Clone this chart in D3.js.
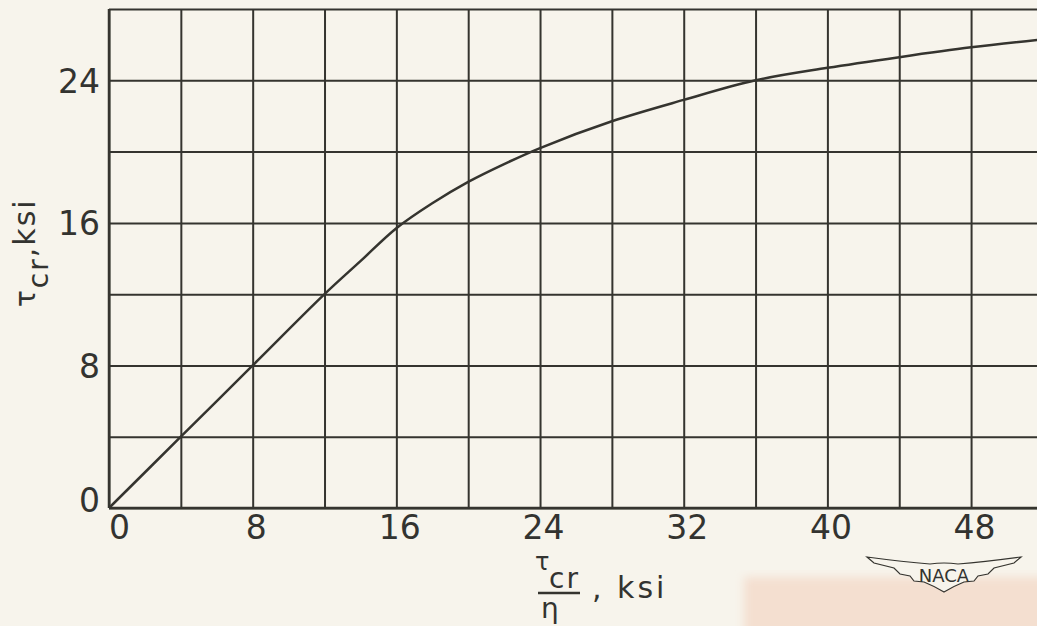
<!DOCTYPE html>
<html>
<head>
<meta charset="utf-8">
<script src="https://cdn.jsdelivr.net/npm/d3@7"></script>
<style>
  html, body { margin: 0; padding: 0; background: #f7f4ec; }
  svg { display: block; }
  .lbl { font-family: "DejaVu Sans", sans-serif; fill: #333330; }
</style>
</head>
<body>
<div id="chart"></div>
<script>
// data
var tauEta = [0, 4, 8, 12, 14, 16, 18, 20, 22, 24, 28, 32, 36, 40, 44, 48, 52];
var tauCr = [0, 4, 8, 12, 13.85, 15.7, 17.1, 18.3, 19.3, 20.2, 21.7, 22.9, 24.0, 24.7, 25.3, 25.85, 26.3];

var gridX = d3.range(0, 53, 4);
var gridY = d3.range(0, 29, 4);
var xTicks = [0, 8, 16, 24, 32, 40, 48];
var yTicks = [0, 8, 16, 24];

var svgWidth = 1037;
var svgHeight = 626;
var ink = "#35342f";

var svg = d3.select("#chart")
  .append("svg")
  .attr("width", svgWidth)
  .attr("height", svgHeight);

svg.append("rect")
  .attr("width", svgWidth)
  .attr("height", svgHeight)
  .attr("fill", "#f7f4ec");

// faint stain on the scan, lower right
var defs = svg.append("defs");
defs.append("filter").attr("id", "soft")
  .append("feGaussianBlur").attr("stdDeviation", 5);
svg.append("rect")
  .attr("x", 744).attr("y", 577)
  .attr("width", 320).attr("height", 70)
  .attr("fill", "#f4dfd0")
  .attr("filter", "url(#soft)");

var x = d3.scaleLinear().domain([0, 52]).range([109, 109 + 52 * 17.96]);
var y = d3.scaleLinear().domain([0, 28]).range([508, 508 - 28 * 17.82]);

// grid - vertical lines
var gx = svg.append("g")
  .attr("transform", `translate(0, ${y(0)})`)
  .call(d3.axisBottom(x).tickValues(gridX).tickSize(-(y(0) - y(28))).tickFormat(""));
gx.select(".domain").remove();
gx.selectAll(".tick line").attr("stroke", ink).attr("stroke-width", 2);

// grid - horizontal lines
var gy = svg.append("g")
  .attr("transform", `translate(${x(0)}, 0)`)
  .call(d3.axisLeft(y).tickValues(gridY).tickSize(-(x(52) - x(0))).tickFormat(""));
gy.select(".domain").remove();
gy.selectAll(".tick line").attr("stroke", ink).attr("stroke-width", 2);

// heavier frame on left and bottom
svg.append("line")
  .attr("x1", x(0)).attr("x2", x(0))
  .attr("y1", y(0)).attr("y2", y(28))
  .attr("stroke", ink).attr("stroke-width", 2.5);
svg.append("line")
  .attr("x1", x(0)).attr("x2", x(52))
  .attr("y1", y(0)).attr("y2", y(0))
  .attr("stroke", ink).attr("stroke-width", 2.5);

// tick labels
var xl = svg.append("g")
  .attr("transform", `translate(0, ${y(0)})`)
  .call(d3.axisBottom(x).tickValues(xTicks).tickSize(0).tickPadding(8));
xl.select(".domain").remove();
xl.selectAll(".tick text")
  .attr("class", "lbl")
  .attr("font-size", 33)
  .attr("fill", "#333330")
  .attr("dy", "0.71em")
  .attr("dx", d => d === 0 ? 10 : 3);

var yl = svg.append("g")
  .attr("transform", `translate(${x(0)}, 0)`)
  .call(d3.axisLeft(y).tickValues(yTicks).tickSize(0).tickPadding(9));
yl.select(".domain").remove();
yl.selectAll(".tick text")
  .attr("class", "lbl")
  .attr("font-size", 33)
  .attr("fill", "#333330")
  .attr("dy", d => d === 0 ? "0.1em" : "0.36em");

// curve
var pts = tauEta.map((v, i) => [v, tauCr[i]]);
var line = d3.line()
  .x(d => x(d[0]))
  .y(d => y(d[1]))
  .curve(d3.curveCatmullRom.alpha(0.5));

svg.append("path")
  .datum(pts)
  .attr("d", line)
  .attr("fill", "none")
  .attr("stroke", ink)
  .attr("stroke-width", 2.5);

// y axis title
var yt = svg.append("text")
  .attr("class", "lbl")
  .attr("transform", "translate(35, 307) rotate(-90)")
  .attr("letter-spacing", 2);
yt.append("tspan").attr("font-size", 28).text("τ");
yt.append("tspan").attr("font-size", 28).attr("dy", 13).text("cr");
yt.append("tspan").attr("font-size", 30).attr("dy", -13).text(",ksi");

// x axis title, as a fraction
var num = svg.append("text").attr("class", "lbl");
num.append("tspan")
  .attr("x", 535).attr("y", 570).attr("font-size", 24).text("τ");
num.append("tspan")
  .attr("x", 549).attr("y", 588).attr("font-size", 28)
  .attr("letter-spacing", 2).text("cr");
svg.append("line")
  .attr("x1", 538).attr("x2", 580)
  .attr("y1", 593).attr("y2", 593)
  .attr("stroke", ink).attr("stroke-width", 2.5);
svg.append("text").attr("class", "lbl")
  .attr("x", 541).attr("y", 618).attr("font-size", 28).text("η");
svg.append("text").attr("class", "lbl")
  .attr("x", 592).attr("y", 598).attr("font-size", 30)
  .attr("letter-spacing", 3).text(", ksi");

// NACA wings mark
var logo = svg.append("g").attr("transform", "translate(944, 560)");
logo.append("path")
  .attr("d", "M-77,-3 Q-40,2 -14,4 Q0,2 14,4 Q40,2 77,-3 " +
    "L70,3 L50,8 L44,14 L34,16 L30,21 L20,22 Q10,26 0,32 " +
    "Q-10,26 -20,22 L-30,21 L-34,16 L-44,14 L-50,8 L-70,3 Z")
  .attr("fill", "#f7f4ec")
  .attr("stroke", ink)
  .attr("stroke-width", 1.2);
logo.append("text")
  .attr("class", "lbl")
  .attr("x", 0).attr("y", 22)
  .attr("text-anchor", "middle")
  .attr("font-size", 18)
  .text("NACA");
</script>
</body>
</html>
